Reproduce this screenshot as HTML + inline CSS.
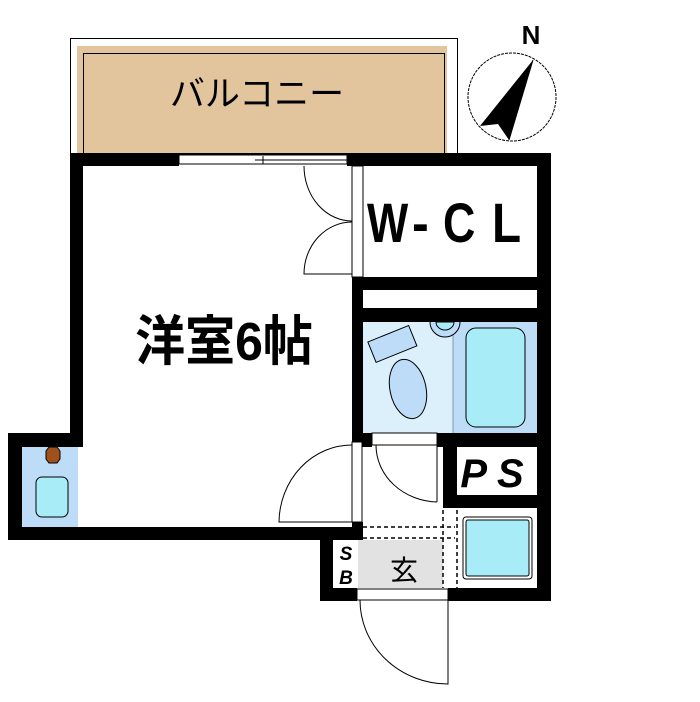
<!DOCTYPE html>
<html><head><meta charset="utf-8"><style>
html,body{margin:0;padding:0;background:#fff;}
svg{display:block;}
text{font-family:"Liberation Sans","Noto Sans CJK JP",sans-serif;}
</style></head><body>
<svg width="700" height="702" viewBox="0 0 700 702" xmlns="http://www.w3.org/2000/svg">
<rect width="700" height="702" fill="#fff"/>
<!-- balcony -->
<rect x="70.5" y="38.5" width="387" height="116" fill="#fff" stroke="#000" stroke-width="1"/>
<rect x="77" y="46" width="370" height="108" fill="#e2c59c"/>
<rect x="83.5" y="53.5" width="361" height="100" fill="none" stroke="#000" stroke-width="1"/>
<text x="257" y="106" font-size="35" text-anchor="middle" fill="#000">バルコニー</text>
<!-- compass -->
<ellipse cx="512" cy="97" rx="44" ry="44" fill="none" stroke="#000" stroke-width="1" stroke-dasharray="3,1"/>
<polygon points="533,60 480,126 498,124 509,140" fill="#000"/>
<line x1="533" y1="60" x2="509" y2="140" stroke="#000" stroke-width="1"/>
<text x="531" y="44" font-size="26" font-weight="bold" text-anchor="middle" fill="#000">N</text>
<!-- bath/toilet area -->
<rect x="363" y="322" width="90" height="111" fill="#dcf0fb"/>
<rect x="453" y="322" width="84" height="111" fill="#bcdcf7"/>
<line x1="453" y1="322" x2="453" y2="433" stroke="#7a9ab0" stroke-width="1"/>
<rect x="466" y="328" width="59" height="99" rx="10" fill="#a8ecf8" stroke="#000" stroke-width="1"/>
<path d="M430 322 A15 15 0 0 0 460 322" fill="#bcdcf7" stroke="#000" stroke-width="1"/>
<path d="M436 322 A9 8 0 0 0 454 322 Z" fill="#a8ecf8" stroke="#000" stroke-width="1"/>
<g transform="rotate(-22 392 343)"><rect x="370" y="333" width="44" height="22" fill="#bcdcf7" stroke="#000" stroke-width="1"/></g>
<ellipse cx="408" cy="389" rx="18" ry="30" transform="rotate(-12 408 389)" fill="#bcdcf7" stroke="#000" stroke-width="1"/>
<!-- left alcove -->
<rect x="22" y="447" width="56" height="80" fill="#bcdcf7"/>
<polygon points="49,447 57,447 60,451 60,459 57,463 49,463 46,459 46,451" fill="#a0501a" stroke="#000" stroke-width="1"/>
<rect x="36" y="477" width="32" height="40" rx="6" fill="#a8ecf8" stroke="#000" stroke-width="1"/>
<!-- washer area -->
<rect x="463" y="517" width="69" height="62" rx="3" fill="none" stroke="#000" stroke-width="1"/>
<rect x="466" y="520" width="63" height="56" rx="2" fill="#a8ecf8" stroke="#000" stroke-width="1"/>
<!-- genkan -->
<rect x="358" y="540" width="85" height="48" fill="#e2e2e2"/>
<text x="404" y="580" font-size="28" text-anchor="middle" fill="#000">玄</text>
<text x="346" y="560" font-size="19" font-weight="bold" font-style="italic" text-anchor="middle" fill="#000">S</text>
<text x="346" y="584" font-size="19" font-weight="bold" font-style="italic" text-anchor="middle" fill="#000">B</text>
<g stroke="#000" stroke-width="1.5" stroke-dasharray="4,3" fill="none">
<line x1="363" y1="527" x2="455" y2="527"/>
<line x1="363" y1="538" x2="455" y2="538"/>
<line x1="443" y1="510" x2="443" y2="588"/>
<line x1="457" y1="510" x2="457" y2="588"/>
</g>
<!-- walls -->
<g fill="#000">
<rect x="70" y="153" width="109" height="13"/>
<rect x="347" y="153" width="204" height="13"/>
<rect x="70" y="153" width="13" height="293"/>
<rect x="537" y="153" width="14" height="448"/>
<rect x="352" y="277" width="199" height="13"/>
<rect x="352" y="308" width="199" height="14"/>
<rect x="352" y="277" width="11" height="168"/>
<rect x="8" y="433" width="75" height="14"/>
<rect x="8" y="433" width="14" height="107"/>
<rect x="8" y="527" width="355" height="13"/>
<rect x="352" y="522" width="11" height="18"/>
<rect x="437" y="433" width="114" height="14"/>
<rect x="352" y="433" width="20" height="14"/>
<rect x="443" y="433" width="14" height="75"/>
<rect x="443" y="495" width="108" height="13"/>
<rect x="320" y="537" width="13" height="64"/>
<rect x="320" y="588" width="37" height="13"/>
<rect x="448" y="588" width="103" height="13"/>
</g>
<!-- window -->
<rect x="179" y="155" width="168" height="9" fill="#fff" stroke="#000" stroke-width="1"/>
<line x1="255" y1="160" x2="347" y2="160" stroke="#000" stroke-width="1"/>
<line x1="263" y1="156" x2="263" y2="164" stroke="#000" stroke-width="1"/>
<!-- WCL doors -->
<rect x="352" y="166" width="11" height="111" fill="#fff" stroke="#000" stroke-width="1"/>
<path d="M304 166 A48 55 0 0 0 352 221" fill="none" stroke="#000" stroke-width="1"/>
<path d="M352 222 A48 52 0 0 0 304 274 L352 274" fill="none" stroke="#000" stroke-width="1"/>
<!-- bathroom door -->
<rect x="372" y="433" width="65" height="12" fill="#fff" stroke="#000" stroke-width="1"/>
<path d="M376 445 A63 57 0 0 0 437 502" fill="none" stroke="#000" stroke-width="1"/>
<line x1="437" y1="445" x2="437" y2="502" stroke="#000" stroke-width="1"/>
<!-- room door -->
<rect x="352" y="442" width="10" height="80" fill="#fff" stroke="#000" stroke-width="1"/>
<path d="M352 445 A73 78 0 0 0 279 522 L352 522" fill="none" stroke="#000" stroke-width="1"/>
<!-- entry door -->
<rect x="357" y="589" width="91" height="11" fill="#fff" stroke="#000" stroke-width="1"/>
<path d="M360 600 A88 84 0 0 0 448 684 L448 600" fill="none" stroke="#000" stroke-width="1"/>
<!-- labels -->
<g font-size="56" font-weight="bold" fill="#000">
<text transform="translate(367 242) scale(0.78 1)">W</text>
<text transform="translate(412 242) scale(0.9 1)">-</text>
<text transform="translate(443 242) scale(0.8 1)">C</text>
<text transform="translate(492 242) scale(0.85 1)">L</text>
</g>
<text transform="translate(224 360) scale(1 1.08)" font-size="50" font-weight="bold" text-anchor="middle" fill="#000">洋室6帖</text>
<text x="497" y="487" font-size="40" font-weight="bold" font-style="italic" text-anchor="middle" fill="#000" letter-spacing="10">PS</text>
</svg>
</body></html>
